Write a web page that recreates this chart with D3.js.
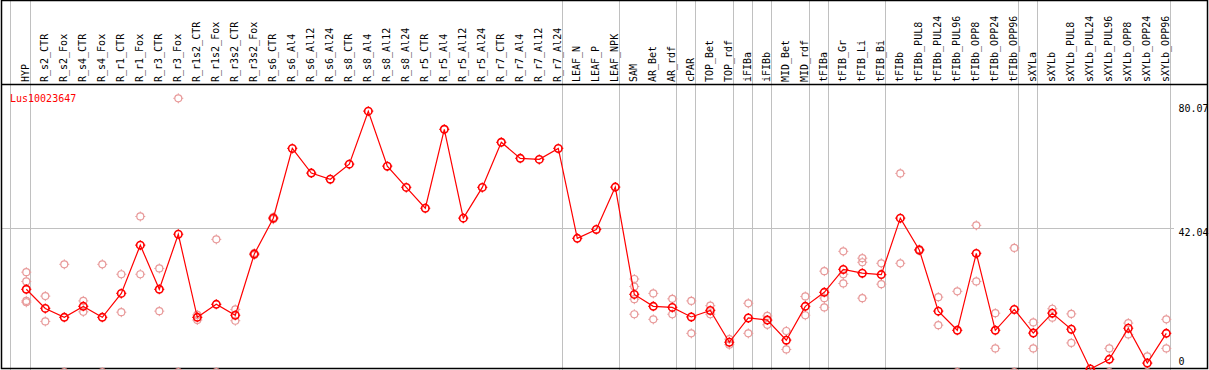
<!DOCTYPE html>
<html>
<head>
<meta charset="utf-8">
<script src="https://cdn.jsdelivr.net/npm/d3@7"></script>
<style>
  body { margin: 0; background: #fff; }
  text { font-family: "DejaVu Sans Mono", "Liberation Mono", monospace; font-size: 10px; }
</style>
</head>
<body>
<script>

var geneName = 'Lus10023647';

var columns = ['HYP','R_s2_CTR','R_s2_Fox','R_s4_CTR','R_s4_Fox','R_r1_CTR','R_r1_Fox','R_r3_CTR','R_r3_Fox',
  'R_r1s2_CTR','R_r1s2_Fox','R_r3s2_CTR','R_r3s2_Fox','R_s6_CTR','R_s6_Al4','R_s6_Al12','R_s6_Al24',
  'R_s8_CTR','R_s8_Al4','R_s8_Al12','R_s8_Al24','R_r5_CTR','R_r5_Al4','R_r5_Al12','R_r5_Al24',
  'R_r7_CTR','R_r7_Al4','R_r7_Al12','R_r7_Al24','LEAF_N','LEAF_P','LEAF_NPK','SAM','AR_Bet','AR_rdf',
  'cPAR','TOP_Bet','TOP_rdf','iFIBa','iFIBb','MID_Bet','MID_rdf','tFIBa','tFIB_Gr','tFIB_Li','tFIB_Bi',
  'tFIBb','tFIBb_PUL8','tFIBb_PUL24','tFIBb_PUL96','tFIBb_OPP8','tFIBb_OPP24','tFIBb_OPP96',
  'sXYLa','sXYLb','sXYLb_PUL8','sXYLb_PUL24','sXYLb_PUL96','sXYLb_OPP8','sXYLb_OPP24','sXYLb_OPP96'];

var means = [24.2,18.6,16.0,19.2,16.0,23.0,37.1,24.2,40.3,
  16.0,19.8,16.6,34.5,45.0,65.4,58.2,56.4,
  60.8,76.3,60.2,54.0,47.9,71.0,45.0,54.0,
  67.2,62.5,62.2,65.4,39.1,41.7,54.1,22.7,19.2,18.9,
  16.1,18.0,8.7,15.8,15.2,9.3,19.2,23.3,30.0,28.9,28.5,
  45.0,35.7,17.8,12.2,34.7,12.2,18.3,
  11.4,17.2,12.5,0.9,3.7,12.8,2.6,11.3];

// replicate values, one list per column
var replicates = [[29.2,26.5,20.8,20.4],[22.2,14.8],[31.5,0],[20.8,17.6],[31.5,0],[28.6,17.5],[45.5,28.6],[30.3,17.8],[80.07,0],
  [16.7,15.2],[38.8,0],[18.3,15.0],[34.8,34.2],[45.3,44.7],[],[],[],
  [],[],[],[],[],[],[],[],
  [],[],[],[],[],[],[],[27.2,25.0,21.3,16.9],[23.0,15.4],[21.4,16.9],
  [20.8,11.3],[19.4,16.9],[9.6,8.0],[20.1,11.3],[16.4,13.8],[12.0,6.6],[22.1,16.6],[29.5,21.6,18.9],[35.3,28.6,25.9],[33.3,32.1,21.6],[31.8,25.7],
  [58.1,31.8],[35.9,35.5],[21.9,13.7],[23.6,0],[42.9,26.5],[17.2,6.9],[36.3,0],
  [14.5,6.9],[18.5,15.9],[17.0,8.5],[],[6.9,0],[14.3,11.0],[4.6,0],[15.4,6.9]];

var yTicks = [80.07, 42.04, 0];

// group separators drawn right after these columns
var separators = ['HYP','R_r7_Al24','LEAF_NPK','AR_rdf','cPAR','TOP_rdf','iFIBa','iFIBb','MID_rdf',
  'tFIBa','tFIB_Bi','tFIBb_OPP96','sXYLa','sXYLb_OPP96'];

var svgwidth = 1209, svgheight = 370;
var headerBottom = 84;

var xscale = d3.scalePoint().domain(columns).range([26.3, 1166.3]);
var yscale = d3.scaleLinear().domain([0, 80.07]).range([372, 98.3]);

var svg = d3.select('body').append('svg')
  .attr('width', svgwidth)
  .attr('height', svgheight);

// grid lines
svg.append('line')
  .attr('x1', 10.5).attr('x2', 10.5).attr('y1', 0).attr('y2', svgheight)
  .attr('stroke', '#c0c0c0');

svg.selectAll('.sep').data(separators).enter()
  .append('line')
  .attr('x1', function(d){ return Math.round(xscale(d) + 4) + 0.5; })
  .attr('x2', function(d){ return Math.round(xscale(d) + 4) + 0.5; })
  .attr('y1', 0)
  .attr('y2', svgheight)
  .attr('stroke', '#c0c0c0');

svg.append('line')
  .attr('x1', 1).attr('x2', 1174)
  .attr('y1', Math.round(yscale(42.04)) + 0.5).attr('y2', Math.round(yscale(42.04)) + 0.5)
  .attr('stroke', '#c0c0c0');

// frame
svg.append('rect')
  .attr('x', 1.5).attr('y', 0.5).attr('width', 1206).attr('height', 368)
  .attr('fill', 'none').attr('stroke', '#000').attr('stroke-width', 1.5);
svg.append('line')
  .attr('x1', 1).attr('x2', 1208).attr('y1', headerBottom + 0.5).attr('y2', headerBottom + 0.5)
  .attr('stroke', '#000').attr('stroke-width', 1.5);

// column labels
svg.selectAll('.colname').data(columns).enter()
  .append('text')
  .attr('transform', function(d){ return 'translate(' + (xscale(d) + 3) + ',' + (headerBottom - 2) + ') rotate(-90)'; })
  .attr('fill', '#000')
  .text(function(d){ return d; });

// y labels
svg.selectAll('.ylab').data(yTicks).enter()
  .append('text')
  .attr('x', 1178.5)
  .attr('y', function(d){
    if(d == 0){ return 365; }
    if(d == 80.07){ return yscale(d) + 13.5; }
    return yscale(d) + 7.5;
  })
  .attr('fill', '#000')
  .text(function(d){ return d; });

svg.append('text')
  .attr('x', 10).attr('y', 101.5)
  .attr('fill', '#f00')
  .text(geneName);

var clip = svg.append('g');

var tick = 'M0,-5V-3.5M0,3.5V5M-5,0H-3.5M3.5,0H5';

// replicate points
var reps = [];
replicates.forEach(function(list, i){
  list.forEach(function(v){ reps.push({col: columns[i], v: v}); });
});

var repg = clip.selectAll('.rep').data(reps).enter()
  .append('g')
  .attr('transform', function(d){ return 'translate(' + xscale(d.col) + ',' + yscale(d.v) + ')'; });
repg.append('circle').attr('r', 3.5).attr('fill', 'none').attr('stroke', '#e89a9a').attr('stroke-width', 1.2);
repg.append('path').attr('d', tick).attr('stroke', '#e89a9a').attr('stroke-width', 1);

// mean line
var line = d3.line()
  .x(function(d, i){ return xscale(columns[i]); })
  .y(function(d){ return yscale(d); });

clip.append('path')
  .datum(means)
  .attr('d', line)
  .attr('fill', 'none')
  .attr('stroke', '#f00')
  .attr('stroke-width', 1.2);

var meang = clip.selectAll('.mean').data(means).enter()
  .append('g')
  .attr('transform', function(d, i){ return 'translate(' + xscale(columns[i]) + ',' + yscale(d) + ')'; });
meang.append('circle').attr('r', 3.7).attr('fill', 'none').attr('stroke', '#f00').attr('stroke-width', 1.6);
meang.append('path').attr('d', tick).attr('stroke', '#f00').attr('stroke-width', 1.2);

</script>
</body>
</html>
